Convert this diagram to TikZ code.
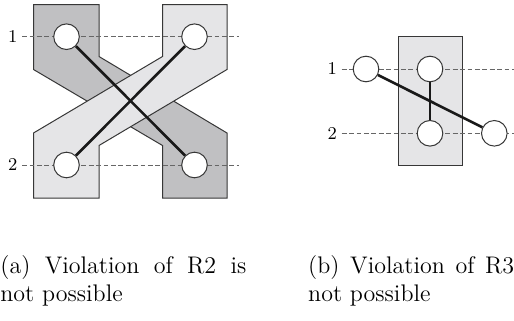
\documentclass[tikz,border=0pt]{standalone}
\usepackage{tikz}
\definecolor{darkfill}{RGB}{192,192,194}
\definecolor{lightfill}{RGB}{229,229,231}
\definecolor{rim}{RGB}{55,55,55}

\begin{document}
\begin{tikzpicture}[
    x=0.5pt, y=-0.5pt,
    vtx/.style={circle, draw=rim, line width=0.5pt, fill=white, minimum size=12.8pt, inner sep=0pt},
    lbl/.style={inner sep=2.2pt, font=\fontsize{9}{10}\selectfont},
    cut/.style={draw=black!60, line width=0.5pt, dash pattern=on 2.4pt off 1.3pt},
    edge/.style={draw=black!90, line width=1.3pt},
    blob/.style={draw=rim, line width=0.5pt},
    capt/.style={anchor=base west, inner sep=0pt, align=left, font=\fontsize{12}{14.35}\selectfont}
]
\useasboundingbox (0,0) rectangle (514,321);

% (a) zwei gekreuzte Gebiete
\draw[blob, fill=darkfill] (33.5,4.5) -- (99,4.5) -- (99,56.5) -- (227,133) -- (227,198)
    -- (162.5,198) -- (162.5,145.5) -- (33.5,69.5) -- cycle;
\draw[blob, fill=lightfill] (162.5,4.5) -- (227,4.5) -- (227,69.5) -- (99,145.5) -- (99,198)
    -- (33.5,198) -- (33.5,133) -- (162.5,56.5) -- cycle;

% Zeilen 1, 2
\node[lbl] (a1) at (12.7,36.7) {1};
\node[lbl] (a2) at (12.7,165) {2};
\coordinate (a1e) at (239,36.7);
\coordinate (a2e) at (239,165);
\draw[cut] (a1) -- (a1e);
\draw[cut] (a2) -- (a2e);

% Knoten und Kanten
\node[vtx] (u1) at (66.5,36.7) {};
\node[vtx] (v1) at (194.5,36.7) {};
\node[vtx] (u2) at (66.5,165) {};
\node[vtx] (v2) at (194.5,165) {};
\draw[edge] (u1) -- (v2);
\draw[edge] (v1) -- (u2);

% (b) ein Block
\draw[blob, fill=lightfill] (398,36.7) rectangle (462.3,165);

\node[lbl] (b1) at (332.3,69) {1};
\node[lbl] (b2) at (332.3,133.3) {2};
\coordinate (b1e) at (514,69);
\coordinate (b2e) at (514,133.3);
\draw[cut] (b1) -- (b1e);
\draw[cut] (b2) -- (b2e);

\node[vtx] (p1) at (366,69) {};
\node[vtx] (q1) at (430,69) {};
\node[vtx] (q2) at (430,133.3) {};
\node[vtx] (r2) at (494.3,133.3) {};
\draw[edge] (p1) -- (r2);
\draw[edge] (q1) -- (q2);

% Unterschriften
\node[capt] (capa) at (0,301.7) {\hbox to 123pt{(a) Violation of R2 is}\\not possible};
\node[capt] (capb) at (307.8,301.7) {\hbox to 103pt{(b) Violation of R3}\\not possible};

\end{tikzpicture}
\end{document}
